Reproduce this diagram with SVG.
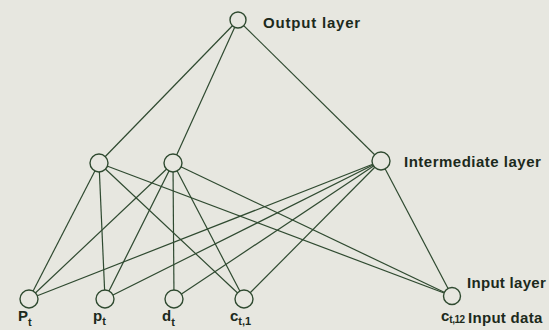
<svg xmlns="http://www.w3.org/2000/svg" width="549" height="330" viewBox="0 0 549 330">
<style>
.bg{fill:#e7e7e0}
.edge{stroke:#2f4a30;stroke-width:1.2;fill:none}
.node circle{fill:#e7e7e0;stroke:#2f4a30;stroke-width:1.4}
.lbl{font-family:"Liberation Sans",Arial,sans-serif;font-weight:bold;font-size:15px;fill:#1c2a1c;letter-spacing:0.8px}
.var{font-family:"Liberation Sans",Arial,sans-serif;font-weight:bold;font-size:15px;fill:#1c2a1c}
.sub{font-size:11px}
</style>
<rect class="bg" x="0" y="0" width="549" height="330"/>
<g id="connectors">
<line class="edge" x1="238" y1="20" x2="99" y2="163"/>
<line class="edge" x1="238" y1="20" x2="173" y2="163"/>
<line class="edge" x1="238" y1="20" x2="381" y2="161"/>
<line class="edge" x1="99" y1="163" x2="29" y2="299"/>
<line class="edge" x1="99" y1="163" x2="105" y2="299"/>
<line class="edge" x1="99" y1="163" x2="244" y2="299"/>
<line class="edge" x1="99" y1="163" x2="452" y2="296"/>
<line class="edge" x1="173" y1="163" x2="29" y2="299"/>
<line class="edge" x1="173" y1="163" x2="105" y2="299"/>
<line class="edge" x1="173" y1="163" x2="174" y2="299"/>
<line class="edge" x1="173" y1="163" x2="244" y2="299"/>
<line class="edge" x1="173" y1="163" x2="452" y2="296"/>
<line class="edge" x1="381" y1="161" x2="29" y2="299"/>
<line class="edge" x1="381" y1="161" x2="105" y2="299"/>
<line class="edge" x1="381" y1="161" x2="174" y2="299"/>
<line class="edge" x1="381" y1="161" x2="244" y2="299"/>
<line class="edge" x1="381" y1="161" x2="452" y2="296"/>
</g>
<g id="output" class="node"><circle cx="238" cy="20" r="8"/></g>
<g id="hidden1" class="node"><circle cx="99" cy="163" r="9"/></g>
<g id="hidden2" class="node"><circle cx="173" cy="163" r="9"/></g>
<g id="hidden3" class="node"><circle cx="381" cy="161" r="9"/></g>
<g id="in_Pt" class="node"><circle cx="29" cy="299" r="9"/>
<text class="var" x="18" y="321">P<tspan class="sub" dy="5">t</tspan></text></g>
<g id="in_pt" class="node"><circle cx="105" cy="299" r="9"/>
<text class="var" x="93" y="321">p<tspan class="sub" dy="4">t</tspan></text></g>
<g id="in_dt" class="node"><circle cx="174" cy="299" r="9"/>
<text class="var" x="162" y="321">d<tspan class="sub" dy="5">t</tspan></text></g>
<g id="in_ct1" class="node"><circle cx="244" cy="299" r="9"/>
<text class="var" x="230" y="321">c<tspan class="sub" dy="4">t,1</tspan></text></g>
<g id="in_ct12" class="node"><circle cx="452" cy="296" r="8.5"/>
<text class="var" x="441" y="321">c<tspan class="sub" dy="2" style="font-size:10px;letter-spacing:-0.5px">t,12</tspan></text></g>
<g id="labels">
<text class="lbl" x="263" y="28">Output layer</text>
<text class="lbl" x="404" y="167" style="letter-spacing:0.5px">Intermediate layer</text>
<text class="lbl" x="467" y="288" style="letter-spacing:0.3px">Input layer</text>
<text class="lbl" x="468" y="323" style="letter-spacing:0.3px">Input data</text>
</g>
</svg>
